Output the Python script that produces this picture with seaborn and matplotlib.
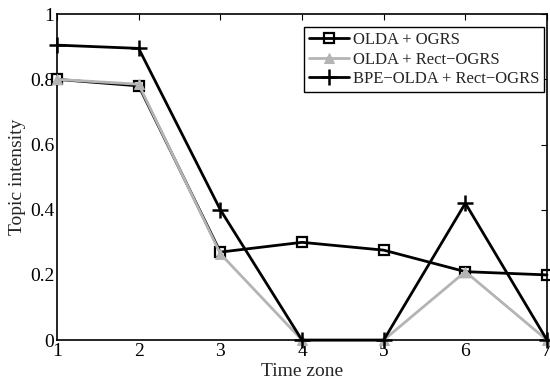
import matplotlib
matplotlib.use("Agg")
import matplotlib.pyplot as plt
import seaborn as sns
import pandas as pd

time_zone = [1, 2, 3, 4, 5, 6, 7]
olda_ogrs = [0.80, 0.78, 0.27, 0.30, 0.276, 0.21, 0.20]
olda_rect = [0.80, 0.785, 0.265, 0.0, 0.0, 0.21, 0.0]
bpe_olda_rect = [0.905, 0.895, 0.40, 0.0, 0.0, 0.42, 0.0]
series_names = ["OLDA + OGRS", "OLDA + Rect\u2212OGRS", "BPE\u2212OLDA + Rect\u2212OGRS"]

sns.set_theme(style="white")
plt.rcParams["font.family"] = ["Liberation Serif", "DejaVu Serif"]
plt.rcParams["mathtext.fontset"] = "stix"

fig = plt.figure(figsize=(5.5, 3.83), dpi=100)
ax = fig.add_axes([0.1036, 0.112, 0.891, 0.851])

styles = [
    dict(color="black", marker="s", markersize=7, markerfacecolor="none",
         markeredgecolor="black", markeredgewidth=1.6),
    dict(color="#b4b4b4", marker="^", markersize=7, markerfacecolor="#b4b4b4",
         markeredgecolor="#b4b4b4"),
    dict(color="black", marker="+", markersize=11, markeredgewidth=1.8,
         markeredgecolor="black"),
]
for vals, name, st in zip([olda_ogrs, olda_rect, bpe_olda_rect], series_names, styles):
    df = pd.DataFrame({"t": time_zone, "v": vals})
    sns.lineplot(data=df, x="t", y="v", ax=ax, label=name, linewidth=2,
                 clip_on=False, zorder=3, **st)

ax.set_xlim(1, 7)
ax.set_ylim(0, 1)
ax.set_xticks(time_zone)
ax.set_xticklabels([str(t) for t in time_zone])
ax.set_yticks([0, 0.2, 0.4, 0.6, 0.8, 1])
ax.set_yticklabels(["0", "0.2", "0.4", "0.6", "0.8", "1"])
ax.tick_params(direction="in", length=4, width=0.8, colors="black", labelsize=14,
               top=True, right=True, pad=2)
for s in ax.spines.values():
    s.set_color("black")
    s.set_linewidth(1.2)
ax.set_xlabel("Time zone", fontsize=14, labelpad=2)
ax.set_ylabel("Topic intensity", fontsize=14, labelpad=3)

leg = ax.legend(loc="upper right", bbox_to_anchor=(0.994, 0.96), fontsize=12,
                frameon=True, fancybox=False, edgecolor="black", framealpha=1,
                handlelength=2.4, handletextpad=0.2, borderpad=0.3, labelspacing=0.2,
                borderaxespad=0)
leg.get_frame().set_linewidth(1.0)

fig.savefig("out.png", dpi=100)
